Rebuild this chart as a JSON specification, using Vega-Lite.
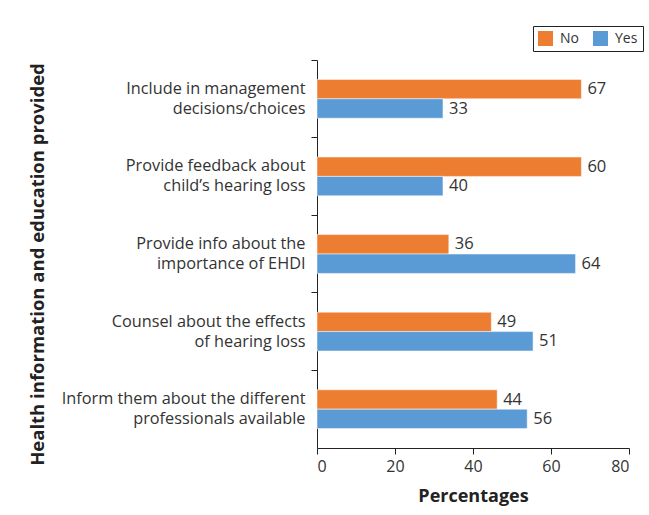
{
  "$schema": "https://vega.github.io/schema/vega-lite/v6.json",
  "autosize": {"type": "none"},
  "width": 312,
  "height": 388,
  "padding": {"left": 317, "top": 60, "right": 20, "bottom": 67},
  "background": "white",
  "data": {
    "values": [
      {"item": "Include in management|decisions/choices", "answer": "No", "value": 67.8, "label": "67"},
      {"item": "Include in management|decisions/choices", "answer": "Yes", "value": 32.3, "label": "33"},
      {"item": "Provide feedback about|child’s hearing loss", "answer": "No", "value": 67.8, "label": "60"},
      {"item": "Provide feedback about|child’s hearing loss", "answer": "Yes", "value": 32.3, "label": "40"},
      {"item": "Provide info about the|importance of EHDI", "answer": "No", "value": 33.8, "label": "36"},
      {"item": "Provide info about the|importance of EHDI", "answer": "Yes", "value": 66.3, "label": "64"},
      {"item": "Counsel about the effects|of hearing loss", "answer": "No", "value": 44.7, "label": "49"},
      {"item": "Counsel about the effects|of hearing loss", "answer": "Yes", "value": 55.4, "label": "51"},
      {"item": "Inform them about the different|professionals available", "answer": "No", "value": 46.2, "label": "44"},
      {"item": "Inform them about the different|professionals available", "answer": "Yes", "value": 53.9, "label": "56"}
    ]
  },
  "encoding": {
    "y": {
      "field": "item", "type": "nominal", "sort": null,
      "scale": {"paddingInner": 0, "paddingOuter": 0},
      "axis": {
        "title": "Health information and education provided",
        "titleFont": "Open Sans", "titleFontSize": 18.5, "titleFontWeight": "bold", "titleColor": "#222",
        "titleX": -270, "titleY": 204,
        "labelExpr": "split(datum.label, '|')",
        "labelFont": "Open Sans", "labelFontSize": 16.3, "labelColor": "#333", "labelLineHeight": 20,
        "labelLimit": 0, "labelOffset": -10,
        "labelPadding": 6, "bandPosition": 0, "tickSize": 6, "tickColor": "#222",
        "domainColor": "#222", "grid": false
      }
    },
    "yOffset": {
      "field": "answer", "type": "nominal", "sort": ["No", "Yes"],
      "scale": {"paddingInner": 0, "paddingOuter": 1.075}
    },
    "x": {
      "field": "value", "type": "quantitative",
      "scale": {"domain": [0, 80], "nice": false},
      "axis": {
        "title": "Percentages", "titleFont": "Open Sans", "titleFontSize": 18, "titleFontWeight": "bold",
        "titleColor": "#222", "titlePadding": 13,
        "values": [0, 20, 40, 60, 80],
        "labelFont": "Open Sans", "labelFontSize": 16, "labelColor": "#333", "labelPadding": 4,
        "tickSize": 6, "tickColor": "#222", "domainColor": "#222", "grid": false
      }
    }
  },
  "layer": [
    {
      "mark": {"type": "bar", "stroke": "white", "strokeWidth": 0.5},
      "encoding": {
        "color": {
          "field": "answer", "type": "nominal",
          "scale": {"domain": ["No", "Yes"], "range": ["#ED7D31", "#5B9BD5"]},
          "legend": {
            "title": null, "orient": "none", "direction": "horizontal",
            "legendX": 216, "legendY": -34,
            "strokeColor": "#222", "padding": 5,
            "symbolType": "square", "symbolSize": 225, "symbolStrokeWidth": 0,
            "labelFont": "Open Sans", "labelFontSize": 14, "labelColor": "#333",
            "columnPadding": 14, "labelOffset": 7
          }
        }
      }
    },
    {
      "mark": {"type": "text", "align": "left", "baseline": "middle", "dx": 6, "font": "Open Sans", "fontSize": 16.5, "color": "#333"},
      "encoding": {"text": {"field": "label"}}
    }
  ],
  "config": {"view": {"stroke": null}}
}
